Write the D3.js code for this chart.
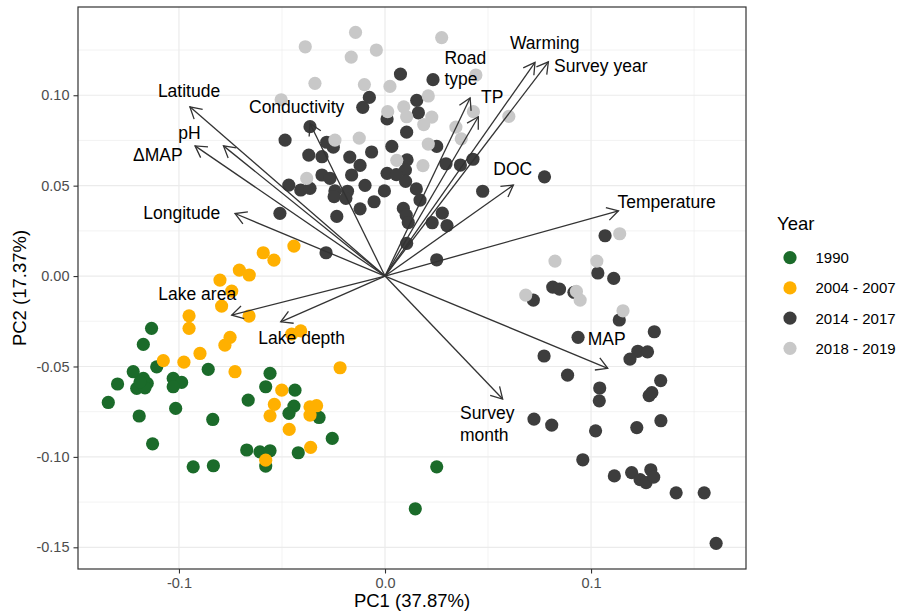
<!DOCTYPE html>
<html>
<head>
<meta charset="utf-8">
<script src="https://cdn.jsdelivr.net/npm/d3@7"></script>
<style>
  body { margin: 0; background: #fff; }
  text { font-family: "Liberation Sans", Arial, Helvetica, sans-serif; }
</style>
</head>
<body>
<div id="chart"></div>
<script>
// site scores (PC1, PC2)
var pts1990 = [[-0.1133,-0.0289],[-0.1173,-0.0378],[-0.1222,-0.0529],[-0.1108,-0.0502],[-0.1298,-0.0597],
  [-0.1343,-0.0699],[-0.1205,-0.0621],[-0.1173,-0.0566],[-0.1154,-0.0593],[-0.1165,-0.0618],[-0.1189,-0.0585],
  [-0.1193,-0.0774],[-0.1128,-0.0928],[-0.1016,-0.0732],[-0.1028,-0.0566],[-0.0987,-0.0588],[-0.1028,-0.0612],
  [-0.0858,-0.0516],[-0.0836,-0.0793],[-0.0931,-0.1055],[-0.0833,-0.1049],[-0.0664,-0.0686],[-0.0558,-0.0538],
  [-0.0579,-0.0612],[-0.0437,-0.0631],[-0.0442,-0.0719],[-0.0466,-0.0759],[-0.0320,-0.0782],[-0.0256,-0.0898],
  [-0.0671,-0.0962],[-0.0607,-0.0972],[-0.0558,-0.0966],[-0.0579,-0.1051],[-0.0421,-0.0977],[0.0251,-0.1055],
  [0.0147,-0.1287]];
var pts2004 = [[-0.0442,0.0166],[-0.0591,0.0129],[-0.0539,0.0088],[-0.0707,0.0033],[-0.0659,0.0006],
  [-0.0801,-0.0022],[-0.0744,-0.0083],[-0.0793,-0.0166],[-0.0660,-0.0221],[-0.0951,-0.0220],[-0.0951,-0.0289],
  [-0.0752,-0.0339],[-0.0777,-0.0382],[-0.0409,-0.0303],[-0.0453,-0.0321],[-0.0898,-0.0428],[-0.0976,-0.0476],
  [-0.1076,-0.0468],[-0.0728,-0.0529],[-0.0218,-0.0507],[-0.0501,-0.0631],[-0.0537,-0.0710],[-0.0558,-0.0773],
  [-0.0364,-0.0723],[-0.0332,-0.0717],[-0.0364,-0.0769],[-0.0465,-0.0848],[-0.0361,-0.0947],[-0.0579,-0.1018]];
var pts2014 = [[0.0075,0.1117],[0.0233,0.1086],[-0.0076,0.0988],[-0.0108,0.0933],[0.0154,0.0972],[0.0162,0.0903],
  [0.0010,0.0869],[0.0105,0.0796],[-0.0364,0.0826],[-0.0485,0.0752],[-0.0283,0.0740],[-0.0251,0.0713],
  [0.0033,0.0717],[0.0251,0.0717],[-0.0370,0.0669],[-0.0306,0.0660],[-0.0171,0.0658],[-0.0065,0.0686],
  [-0.0121,0.0612],[0.0107,0.0643],[0.0099,0.0586],[0.0010,0.0568],[0.0055,0.0561],[0.0100,0.0524],
  [0.0296,0.0621],[0.0366,0.0614],[0.0427,0.0646],[-0.0306,0.0559],[-0.0267,0.0540],[-0.0162,0.0559],
  [-0.0097,0.0502],[-0.0003,0.0471],[-0.0467,0.0503],[-0.0409,0.0476],[-0.0364,0.0485],[-0.0243,0.0471],
  [-0.0182,0.0469],[-0.0247,0.0439],[-0.0190,0.0430],[-0.0053,0.0411],[-0.0121,0.0372],[-0.0234,0.0330],
  [0.0152,0.0482],[0.0170,0.0420],[0.0089,0.0374],[0.0103,0.0337],[0.0113,0.0296],[0.0229,0.0295],
  [0.0278,0.0348],[0.0301,0.0279],[0.0474,0.0469],[0.0774,0.0549],[-0.0510,0.0347],[-0.0286,0.0129],
  [0.0251,0.0090],[0.0105,0.0181],
  [0.1068,0.0223],[0.1033,0.0017],[0.1110,-0.0013],[0.0814,-0.0061],[0.0847,-0.0072],[0.0917,-0.0090],
  [0.0720,-0.0133],[0.1137,-0.0243],[0.0937,-0.0339],[0.1307,-0.0308],[0.1227,-0.0416],[0.1274,-0.0419],
  [0.1189,-0.0459],[0.0772,-0.0442],[0.0886,-0.0548],[0.1338,-0.0578],[0.1042,-0.0619],[0.1040,-0.0690],
  [0.1282,-0.0661],[0.1295,-0.0645],[0.0723,-0.0791],[0.0809,-0.0824],[0.1022,-0.0856],[0.1222,-0.0838],
  [0.1339,-0.0800],[0.0960,-0.1016],[0.1113,-0.1105],[0.1197,-0.1087],[0.1290,-0.1071],[0.1238,-0.1126],
  [0.1267,-0.1142],[0.1304,-0.1112],[0.1413,-0.1199],[0.1549,-0.1199],[0.1607,-0.1478]];
var pts2018 = [[-0.0143,0.1348],[-0.0387,0.1268],[-0.0042,0.1250],[-0.0164,0.1211],[0.0275,0.1319],
  [-0.0340,0.1066],[-0.0100,0.1059],[0.0024,0.1049],[-0.0504,0.0975],[0.0210,0.0996],[0.0441,0.1112],
  [0.0429,0.0909],[0.0227,0.0879],[0.0091,0.0936],[0.0013,0.0909],[0.0105,0.0881],[0.0188,0.0838],
  [0.0344,0.0824],[0.0370,0.0759],[0.0210,0.0730],[-0.0125,0.0763],[-0.0243,0.0752],[0.0184,0.0611],
  [0.0057,0.0640],[-0.0380,0.0540],[0.0601,0.0883],
  [0.1139,0.0234],[0.0825,0.0083],[0.1028,0.0083],[0.0929,-0.0085],[0.0947,-0.0133],[0.0683,-0.0105],
  [0.1155,-0.0192]];

var groupNames = ["1990", "2004 - 2007", "2014 - 2017", "2018 - 2019"];
var groupColors = ["#1b6b2a", "#ffb000", "#3d3d3d", "#c8c8c8"];
var groupPoints = [pts1990, pts2004, pts2014, pts2018];

// variable loadings (arrow tips)
var varNames = ["Latitude", "pH", "\u0394MAP", "Longitude", "Conductivity", "Road\ntype", "TP", "Warming",
  "Survey year", "DOC", "Temperature", "MAP", "Survey\nmonth", "Lake area", "Lake depth"];
var varPC1 = [-0.0947, -0.0784, -0.0922, -0.0728, -0.0364, 0.0413, 0.0453, 0.0728,
  0.0793, 0.0623, 0.1133, 0.1081, 0.0571, -0.0744, -0.0506];
var varPC2 = [0.0936, 0.0720, 0.0720, 0.0346, 0.0844, 0.0985, 0.0881, 0.1182,
  0.1185, 0.0503, 0.0361, -0.0510, -0.0680, -0.0216, -0.0253];

var xTicks = [-0.1, 0.0, 0.1];
var yTicks = [-0.15, -0.10, -0.05, 0.00, 0.05, 0.10];

// label offsets from arrow tip in px (left x, baseline y)
var labelOffset = [[-32,-9.7],[-45.3,-6.7],[-62,15],[-91.7,5],[-61,-10.6],[-25.7,-34.3],[2.7,-13.4],[-25,-13],
  [5.7,10.6],[-20,-10],[-1,-2.4],[-20,-23.3],[-42.7,20.3],[-73.4,-15],[-22.4,22.6]];

var W = 899, H = 615;
var pL = 78, pT = 7, pR = 746, pB = 569;

var x = d3.scaleLinear().domain([-0.149, 0.1752]).range([pL, pR]);
var y = d3.scaleLinear().domain([-0.162, 0.1488]).range([pB, pT]);

var svg = d3.select("#chart").append("svg")
  .attr("width", W)
  .attr("height", H);

// grid
var xMinor = [-0.05, 0.05, 0.15];
var yMinor = [-0.125, -0.075, -0.025, 0.025, 0.075, 0.125];
svg.selectAll(".xminor").data(xMinor).enter().append("line")
  .attr("x1", d => x(d)).attr("x2", d => x(d)).attr("y1", pT).attr("y2", pB)
  .attr("stroke", "#ebebeb").attr("stroke-width", 0.6);
svg.selectAll(".yminor").data(yMinor).enter().append("line")
  .attr("y1", d => y(d)).attr("y2", d => y(d)).attr("x1", pL).attr("x2", pR)
  .attr("stroke", "#ebebeb").attr("stroke-width", 0.6);
svg.selectAll(".xmajor").data(xTicks).enter().append("line")
  .attr("x1", d => x(d)).attr("x2", d => x(d)).attr("y1", pT).attr("y2", pB)
  .attr("stroke", "#ebebeb").attr("stroke-width", 1.2);
svg.selectAll(".ymajor").data(yTicks).enter().append("line")
  .attr("y1", d => y(d)).attr("y2", d => y(d)).attr("x1", pL).attr("x2", pR)
  .attr("stroke", "#ebebeb").attr("stroke-width", 1.2);

// points
groupPoints.forEach(function(pts, gi) {
  svg.append("g").selectAll("circle")
    .data(pts)
    .enter().append("circle")
    .attr("cx", d => x(d[0]))
    .attr("cy", d => y(d[1]))
    .attr("r", 6.6)
    .attr("fill", groupColors[gi]);
});

// arrows
var ox = x(0), oy = y(0);
var arrows = svg.append("g");
varNames.forEach(function(name, i) {
  var tx = x(varPC1[i]), ty = y(varPC2[i]);
  arrows.append("line")
    .attr("x1", ox).attr("y1", oy).attr("x2", tx).attr("y2", ty)
    .attr("stroke", "#333").attr("stroke-width", 1.3);
  var ang = Math.atan2(oy - ty, ox - tx);
  var len = 13, spread = Math.PI / 6;
  var p1 = [tx + len * Math.cos(ang + spread), ty + len * Math.sin(ang + spread)];
  var p2 = [tx + len * Math.cos(ang - spread), ty + len * Math.sin(ang - spread)];
  arrows.append("path")
    .attr("d", "M" + p1 + "L" + tx + "," + ty + "L" + p2)
    .attr("fill", "none").attr("stroke", "#333").attr("stroke-width", 1.3);

  var lines = name.split("\n");
  var t = arrows.append("text")
    .attr("x", tx + labelOffset[i][0])
    .attr("y", ty + labelOffset[i][1])
    .attr("font-size", "17.5px")
    .attr("fill", "#000");
  lines.forEach(function(l, li) {
    t.append("tspan")
      .attr("x", tx + labelOffset[i][0])
      .attr("dy", li === 0 ? 0 : 21.5)
      .text(l);
  });
});

// panel border
svg.append("rect")
  .attr("x", pL).attr("y", pT)
  .attr("width", pR - pL).attr("height", pB - pT)
  .attr("fill", "none").attr("stroke", "#333").attr("stroke-width", 1.2);

// axes
var xAxis = svg.append("g").attr("transform", "translate(0," + pB + ")")
  .call(d3.axisBottom(x).tickValues(xTicks).tickSize(4.5).tickPadding(4).tickFormat(d3.format(".1f")));
var yAxis = svg.append("g").attr("transform", "translate(" + pL + ",0)")
  .call(d3.axisLeft(y).tickValues(yTicks).tickSize(4.5).tickPadding(4).tickFormat(d3.format(".2f")));
[xAxis, yAxis].forEach(function(a) {
  a.select(".domain").remove();
  a.selectAll(".tick line").attr("stroke", "#333").attr("stroke-width", 1.1);
  a.selectAll(".tick text").attr("fill", "#4d4d4d").attr("font-size", "14.5px")
    .attr("font-family", "Liberation Sans, Arial, sans-serif");
});
xAxis.selectAll(".tick text").text(function(d) { return d3.format(".1f")(d).replace("\u2212", "-"); });
yAxis.selectAll(".tick text").text(function(d) { return d3.format(".2f")(d).replace("\u2212", "-"); });

svg.append("text")
  .attr("x", (pL + pR) / 2).attr("y", 607)
  .attr("text-anchor", "middle").attr("font-size", "18.5px")
  .text("PC1 (37.87%)");
svg.append("text")
  .attr("transform", "translate(26," + ((pT + pB) / 2) + ") rotate(-90)")
  .attr("text-anchor", "middle").attr("font-size", "18.5px")
  .text("PC2 (17.37%)");

// legend
var legend = svg.append("g");
legend.append("text").attr("x", 777).attr("y", 230).attr("font-size", "18.5px").text("Year");
groupNames.forEach(function(g, i) {
  var ly = 257.7 + i * 30.2;
  legend.append("circle").attr("cx", 790).attr("cy", ly).attr("r", 6.6).attr("fill", groupColors[i]);
  legend.append("text").attr("x", 815.5).attr("y", ly).attr("dy", "0.36em")
    .attr("font-size", "15px").text(g);
});
</script>
</body>
</html>
